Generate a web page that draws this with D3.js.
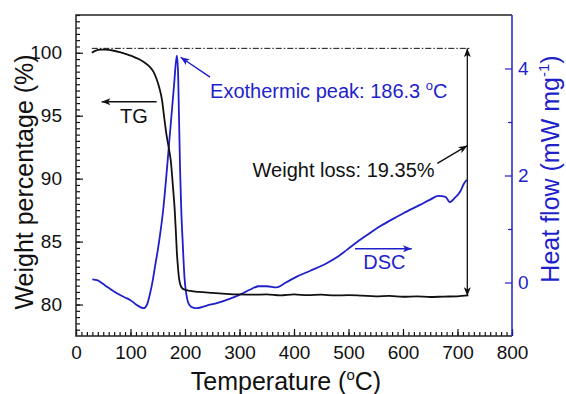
<!DOCTYPE html>
<html>
<head>
<meta charset="utf-8">
<script src="https://cdn.jsdelivr.net/npm/d3@7"></script>
<style>
  body { margin: 0; background: #fff; }
  svg { font-family: Arial, "Liberation Sans", sans-serif; }
</style>
</head>
<body>
<svg id="chart" width="566" height="394"></svg>
<script>
// TG curve (weight %, left axis)
const tgTemp = [29, 35, 45, 55, 65, 80, 95, 105, 115, 125, 135, 142, 148, 153, 158, 162, 166, 170, 174, 178,
  181, 183, 185, 187, 189, 192, 196, 202, 210, 225, 250, 275, 300, 325, 350, 375, 400, 425, 450, 475,
  500, 525, 550, 575, 600, 625, 650, 675, 700, 720];
const tgWeight = [100.0, 100.15, 100.25, 100.25, 100.2, 100.05, 99.85, 99.7, 99.5, 99.25, 98.9, 98.5, 97.9, 97.2, 96.2, 94.8, 93.5, 92.5, 91.4, 89.3,
  87.6, 86.0, 84.2, 83.0, 82.1, 81.5, 81.25, 81.15, 81.08, 81.0, 80.92, 80.85, 80.8, 80.78, 80.8, 80.72, 80.8, 80.75, 80.78, 80.72,
  80.75, 80.7, 80.65, 80.68, 80.62, 80.65, 80.6, 80.63, 80.65, 80.72];

// DSC curve (heat flow, right axis)
const dscTemp = [30, 40, 50, 60, 75, 90, 100, 110, 118, 124, 130, 136, 141, 145, 150, 155, 160, 165, 170, 175,
  180, 185, 187, 189, 191, 193, 196, 199, 203, 208, 215, 222, 240, 260, 283, 300, 320, 335, 350, 368,
  385, 405, 430, 460, 480, 497, 520, 540, 558, 580, 600, 631, 650, 665, 678, 686, 695, 705, 712, 717];
const dscHeat = [0.06, 0.04, -0.03, -0.1, -0.2, -0.28, -0.33, -0.41, -0.46, -0.48, -0.42, -0.2, 0.05, 0.3, 0.6, 0.95, 1.36, 1.9, 2.5, 3.1,
  3.7, 4.24, 4.0, 3.1, 2.1, 1.4, 0.7, 0.1, -0.25, -0.42, -0.47, -0.48, -0.43, -0.38, -0.3, -0.23, -0.13, -0.07, -0.07, -0.09,
  0.0, 0.11, 0.22, 0.36, 0.48, 0.61, 0.79, 0.93, 1.05, 1.18, 1.29, 1.45, 1.55, 1.62, 1.6, 1.5, 1.58, 1.7, 1.85, 1.92];

const tempTicks = [0, 100, 200, 300, 400, 500, 600, 700, 800];
const weightTicks = [80, 85, 90, 95, 100];
const heatTicks = [0, 2, 4];

const BLUE = '#1f1fcc';
const BLACK = '#111';
const width = 566, height = 394;
const margin = { top: 15, right: 54, bottom: 58, left: 76 };

const svg = d3.select('#chart');

const x = d3.scaleLinear().domain([0, 800]).range([margin.left, width - margin.right]);
const yW = d3.scaleLinear().domain([77.5, 103]).range([height - margin.bottom, margin.top]);
const yH = d3.scaleLinear().domain([-1, 5]).range([height - margin.bottom, margin.top]);

// arrow heads
const defs = svg.append('defs');
[['arrow-black', BLACK], ['arrow-blue', BLUE]].forEach(([id, col]) => {
  defs.append('marker')
    .attr('id', id)
    .attr('viewBox', '0 0 10 8')
    .attr('refX', 10).attr('refY', 4)
    .attr('markerWidth', 10).attr('markerHeight', 7)
    .attr('markerUnits', 'userSpaceOnUse')
    .attr('orient', 'auto-start-reverse')
    .append('path')
    .attr('d', 'M0,0 L10,4 L0,8 L2.5,4 Z')
    .attr('fill', col);
});

function styleAxis(g, col) {
  g.select('.domain').remove();
  g.selectAll('line').attr('stroke', col).attr('stroke-width', 1.2);
  g.selectAll('text').attr('fill', col).attr('font-size', '19px')
    .attr('font-family', 'Arial, "Liberation Sans", sans-serif');
}

const yBottom = height - margin.bottom;
const xRight = width - margin.right;
const intFmt = d3.format('d');

// bottom axis
svg.append('g').attr('transform', `translate(0,${yBottom})`)
  .call(d3.axisBottom(x).tickValues(d3.range(0, 81).map(v => v * 10)).tickSize(-4).tickFormat(''))
  .call(g => styleAxis(g, BLACK));
svg.append('g').attr('transform', `translate(0,${yBottom})`)
  .call(d3.axisBottom(x).tickValues(tempTicks).tickSize(-7).tickPadding(10).tickFormat(intFmt))
  .call(g => styleAxis(g, BLACK));

// left axis
svg.append('g').attr('transform', `translate(${margin.left},0)`)
  .call(d3.axisLeft(yW).tickValues(d3.range(156, 207).map(v => v / 2)).tickSize(-4).tickFormat(''))
  .call(g => styleAxis(g, BLACK));
svg.append('g').attr('transform', `translate(${margin.left},0)`)
  .call(d3.axisLeft(yW).tickValues(weightTicks).tickSize(-7).tickPadding(14).tickFormat(intFmt))
  .call(g => styleAxis(g, BLACK));

// right axis
svg.append('g').attr('transform', `translate(${xRight},0)`)
  .call(d3.axisRight(yH).tickValues([1, 3]).tickSize(-4).tickFormat(''))
  .call(g => styleAxis(g, BLUE));
svg.append('g').attr('transform', `translate(${xRight},0)`)
  .call(d3.axisRight(yH).tickValues(heatTicks).tickSize(-7).tickPadding(6).tickFormat(intFmt))
  .call(g => styleAxis(g, BLUE));

// frame
const frame = svg.append('g').attr('stroke-width', 1.5);
frame.append('path').attr('d', `M${xRight},${margin.top}H${margin.left}V${yBottom}H${xRight}`)
  .attr('fill', 'none').attr('stroke', '#222');
frame.append('line').attr('x1', xRight).attr('x2', xRight).attr('y1', margin.top).attr('y2', yBottom)
  .attr('stroke', BLUE);

// curves
const tgLine = d3.line().x(i => x(tgTemp[i])).y(i => yW(tgWeight[i])).curve(d3.curveMonotoneX);
const dscLine = d3.line().x(i => x(dscTemp[i])).y(i => yH(dscHeat[i])).curve(d3.curveMonotoneX);

svg.append('path').attr('d', dscLine(d3.range(dscTemp.length)))
  .attr('fill', 'none').attr('stroke', BLUE).attr('stroke-width', 1.8);
svg.append('path').attr('d', tgLine(d3.range(tgTemp.length)))
  .attr('fill', 'none').attr('stroke', BLACK).attr('stroke-width', 1.8);

// annotations (in data units)
const startWeight = 100.35, endWeight = 80.68, lossTemp = 718;

svg.append('line')
  .attr('x1', x(29)).attr('x2', x(723))
  .attr('y1', yW(startWeight)).attr('y2', yW(startWeight))
  .attr('stroke', BLACK).attr('stroke-width', 1)
  .attr('stroke-dasharray', '6,2,1.5,2');

svg.append('line')
  .attr('x1', x(lossTemp)).attr('x2', x(lossTemp))
  .attr('y1', yW(startWeight)).attr('y2', yW(endWeight))
  .attr('stroke', BLACK).attr('stroke-width', 1.3)
  .attr('marker-start', 'url(#arrow-black)').attr('marker-end', 'url(#arrow-black)');

function arrow(x1, y1, x2, y2, col, id) {
  svg.append('line')
    .attr('x1', x1).attr('y1', y1).attr('x2', x2).attr('y2', y2)
    .attr('stroke', col).attr('stroke-width', 1.4)
    .attr('marker-end', `url(#${id})`);
}

// Weight loss
arrow(x(663), yW(91.22), x(lossTemp), yW(92.62), BLACK, 'arrow-black');
svg.append('text').attr('x', x(324)).attr('y', yW(90.13))
  .attr('font-size', '20px').attr('fill', BLACK).text('Weight loss: 19.35%');

// Exothermic peak
arrow(x(246), yH(3.84), x(192), yH(4.21), BLUE, 'arrow-blue');
const exo = svg.append('text').attr('x', x(246)).attr('y', yH(3.45))
  .attr('font-size', '20px').attr('fill', BLUE);
exo.append('tspan').text('Exothermic peak: 186.3 ');
exo.append('tspan').attr('font-size', '13px').attr('dy', -8).text('o');
exo.append('tspan').attr('dy', 8).text('C');

// TG
arrow(x(148), yW(96.11), x(47), yW(96.11), BLACK, 'arrow-black');
svg.append('text').attr('x', x(80.7)).attr('y', yW(94.42))
  .attr('font-size', '20px').attr('fill', BLACK).text('TG');

// DSC
arrow(x(512), yH(0.63), x(616), yH(0.63), BLUE, 'arrow-blue');
svg.append('text').attr('x', x(527)).attr('y', yH(0.25))
  .attr('font-size', '20px').attr('fill', BLUE).text('DSC');

// axis titles
const xt = svg.append('text').attr('x', 286).attr('y', 390)
  .attr('text-anchor', 'middle').attr('font-size', '25px').attr('fill', BLACK);
xt.append('tspan').text('Temperature (');
xt.append('tspan').attr('font-size', '15px').attr('dy', -10).text('o');
xt.append('tspan').attr('dy', 10).text('C)');

svg.append('text').attr('transform', 'translate(33,182) rotate(-90)')
  .attr('text-anchor', 'middle').attr('font-size', '25px').attr('fill', BLACK)
  .text('Weight percentage (%)');

const yt = svg.append('text').attr('transform', 'translate(559,169) rotate(-90)')
  .attr('text-anchor', 'middle').attr('font-size', '25px').attr('fill', BLUE);
yt.append('tspan').text('Heat flow (mW mg');
yt.append('tspan').attr('font-size', '15px').attr('dy', -10).text('-1');
yt.append('tspan').attr('dy', 10).text(')');
</script>
</body>
</html>
